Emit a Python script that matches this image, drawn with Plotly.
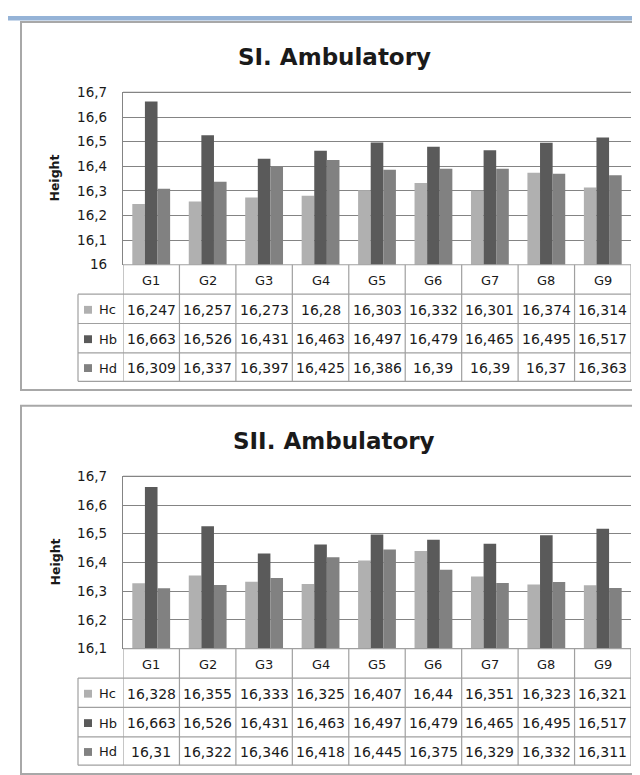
import plotly.graph_objects as go

# ---------------- data ----------------
categories = ["G1", "G2", "G3", "G4", "G5", "G6", "G7", "G8", "G9"]
series_names = ["Hc", "Hb", "Hd"]

s1_hc = [16.247, 16.257, 16.273, 16.28, 16.303, 16.332, 16.301, 16.374, 16.314]
s1_hb = [16.663, 16.526, 16.431, 16.463, 16.497, 16.479, 16.465, 16.495, 16.517]
s1_hd = [16.309, 16.337, 16.397, 16.425, 16.386, 16.39, 16.39, 16.37, 16.363]

s2_hc = [16.328, 16.355, 16.333, 16.325, 16.407, 16.44, 16.351, 16.323, 16.321]
s2_hb = [16.663, 16.526, 16.431, 16.463, 16.497, 16.479, 16.465, 16.495, 16.517]
s2_hd = [16.31, 16.322, 16.346, 16.418, 16.445, 16.375, 16.329, 16.332, 16.311]

titles = ["SI. Ambulatory", "SII. Ambulatory"]
y_title = "Height"

y1_tickvals = [16.0, 16.1, 16.2, 16.3, 16.4, 16.5, 16.6, 16.7]
y1_ticktext = ["16", "16,1", "16,2", "16,3", "16,4", "16,5", "16,6", "16,7"]
y2_tickvals = [16.1, 16.2, 16.3, 16.4, 16.5, 16.6, 16.7]
y2_ticktext = ["16,1", "16,2", "16,3", "16,4", "16,5", "16,6", "16,7"]

# ---------------- styling / layout ----------------
W, H = 640, 775
colors = ["#b0b0b0", "#5a5a5a", "#818181"]
FONT = "DejaVu Sans"
TXT = "#1a1a1a"
GRID = "#848484"
TLINE = "#a0a0a0"


def px(x):
    return x / W


def py(y):
    return 1 - y / H


panels = [
    dict(off=0, data=[s1_hc, s1_hb, s1_hd], tv=y1_tickvals, tt=y1_ticktext,
         rng=[16.0, 16.7], xa="x", ya="y"),
    dict(off=392, data=[s2_hc, s2_hb, s2_hd], tv=y2_tickvals, tt=y2_ticktext,
         rng=[16.1, 16.7], xa="x2", ya="y2"),
]

PLOT_L, PLOT_R = 115, 623
PLOT_T, PLOT_B = 78, 254
ROWS = [254, 284, 314, 344, 373]
LEG_L = 70

fig = go.Figure()
shapes = []
annotations = []

# top blue strip
shapes.append(dict(type="rect", xref="paper", yref="paper", x0=0, x1=1,
                   y0=py(4.5), y1=1, fillcolor="#95b3d7", line=dict(width=0),
                   layer="below"))

for i, p in enumerate(panels):
    o = p["off"]
    for name, vals, c in zip(series_names, p["data"], colors):
        fig.add_trace(go.Bar(x=categories, y=vals, name=name, marker_color=c,
                             marker_line_width=0, xaxis=p["xa"], yaxis=p["ya"],
                             showlegend=False))

    axn = "" if i == 0 else "2"
    fig.layout["xaxis" + axn] = dict(
        domain=[px(PLOT_L), px(PLOT_R)], anchor=p["ya"], showticklabels=False,
        showgrid=False, zeroline=False, showline=False, ticks="",
        range=[-0.5, 8.5], type="category")
    fig.layout["yaxis" + axn] = dict(
        domain=[py(PLOT_B + o), py(PLOT_T + o)], anchor=p["xa"], range=p["rng"],
        tickmode="array", tickvals=p["tv"], ticktext=p["tt"],
        showgrid=True, gridcolor=GRID, gridwidth=1.3, zeroline=False,
        showline=True, linecolor=GRID, linewidth=1.3, ticks="",
        ticklabelstandoff=12,
        tickfont=dict(family=FONT, size=13.5, color=TXT))

    # panel border
    shapes.append(dict(type="rect", xref="paper", yref="paper",
                       x0=px(13), x1=px(700), y0=py(382 + o), y1=py(6 + o),
                       line=dict(color="#a8a8a8", width=2), layer="below"))
    # top gridline safety
    shapes.append(dict(type="line", xref="paper", yref="paper",
                       x0=px(PLOT_L), x1=px(PLOT_R), y0=py(PLOT_T + o), y1=py(PLOT_T + o),
                       line=dict(color=GRID, width=1.3)))

    # table horizontal lines
    shapes.append(dict(type="line", xref="paper", yref="paper",
                       x0=px(PLOT_L), x1=px(PLOT_R), y0=py(ROWS[0] + o), y1=py(ROWS[0] + o),
                       line=dict(color=TLINE, width=1.2)))
    for r in ROWS[1:]:
        shapes.append(dict(type="line", xref="paper", yref="paper",
                           x0=px(LEG_L), x1=px(PLOT_R), y0=py(r + o), y1=py(r + o),
                           line=dict(color=TLINE, width=1.2)))
    # table vertical lines
    shapes.append(dict(type="line", xref="paper", yref="paper",
                       x0=px(LEG_L), x1=px(LEG_L), y0=py(ROWS[1] + o), y1=py(ROWS[-1] + o),
                       line=dict(color=TLINE, width=1.2)))
    for k in range(len(categories) + 1):
        shapes.append(dict(type="line", xref=p["xa"], yref="paper",
                           x0=k - 0.5, x1=k - 0.5, y0=py(ROWS[0] + o), y1=py(ROWS[-1] + o),
                           line=dict(color=TLINE, width=1.2)))

    # title
    annotations.append(dict(text="<b>%s</b>" % titles[i], xref="paper", yref="paper",
                            x=px(326), y=py(42 + o), xanchor="center", yanchor="middle",
                            showarrow=False, font=dict(family=FONT, size=23, color=TXT)))
    # y title
    annotations.append(dict(text="<b>%s</b>" % y_title, xref="paper", yref="paper",
                            x=px(47), y=py((PLOT_T + PLOT_B) / 2 + o), textangle=-90,
                            xanchor="center", yanchor="middle", showarrow=False,
                            font=dict(family=FONT, size=12.5, color=TXT)))
    # category labels
    for c in categories:
        annotations.append(dict(text=c, xref=p["xa"], yref="paper", x=c,
                                y=py((ROWS[0] + ROWS[1]) / 2 + o + 1), xanchor="center",
                                yanchor="middle", showarrow=False,
                                font=dict(family=FONT, size=13, color=TXT)))
    # table rows
    for j, (name, vals, col) in enumerate(zip(series_names, p["data"], colors)):
        yc = (ROWS[j + 1] + ROWS[j + 2]) / 2 + o + 1
        shapes.append(dict(type="rect", xref="paper", yref="paper",
                           x0=px(76), x1=px(84), y0=py(yc + 4), y1=py(yc - 4),
                           fillcolor=col, line=dict(width=0)))
        annotations.append(dict(text=name, xref="paper", yref="paper", x=px(89),
                                y=py(yc), xanchor="left", yanchor="middle",
                                showarrow=False, font=dict(family=FONT, size=13, color=TXT)))
        for c, v in zip(categories, vals):
            annotations.append(dict(text=f"{v:g}".replace(".", ","), xref=p["xa"],
                                    yref="paper", x=c, y=py(yc), xanchor="center",
                                    yanchor="middle", showarrow=False,
                                    font=dict(family=FONT, size=14, color=TXT)))

fig.update_layout(
    width=W, height=H, margin=dict(l=0, r=0, t=0, b=0),
    paper_bgcolor="white", plot_bgcolor="white",
    barmode="group", bargap=0.33, bargroupgap=0,
    shapes=shapes, annotations=annotations, showlegend=False,
)

fig.write_html("out.html")
